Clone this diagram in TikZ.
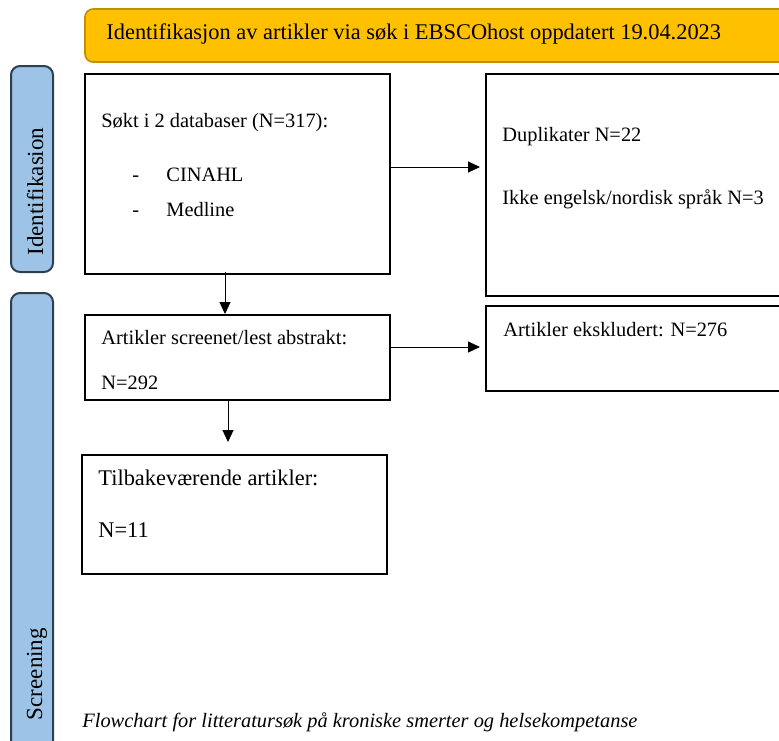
\documentclass[tikz,border=0pt]{standalone}
\usepackage{fontspec}
\setmainfont{Liberation Serif}
\usepackage{tikz}
\usetikzlibrary{arrows.meta}
\definecolor{banngul}{HTML}{FFC000}
\definecolor{bannkant}{HTML}{BF9000}
\definecolor{fasebla}{HTML}{9DC3E6}
\definecolor{fasekant}{HTML}{2E3F52}
\tikzset{
	boks/.style={draw, line width=1pt, inner sep=0pt, anchor=north west, minimum width=152.5pt},
	tekst/.style={inner sep=0pt, anchor=base west, font=\fontsize{10.2}{12}\selectfont},
	stor/.style={inner sep=0pt, anchor=base west, font=\fontsize{11.2}{13}\selectfont},
	fase/.style={inner sep=0pt, anchor=base, rotate=90, font=\fontsize{11.5}{13}\selectfont},
	pil/.style={-{Triangle[length=6pt,width=5.5pt]}, line width=0.5pt}
}
\begin{document}
\begin{tikzpicture}[x=0.5pt, y=-0.5pt]
		%%%%% START %%%%%
		\useasboundingbox (0, 0) rectangle (779, 740);
		\clip (0, 0) rectangle (779, 740);
		
		\draw[fill=banngul, draw=bannkant, line width=0.8pt, rounded corners=4pt] (85, 9) rectangle (820, 62);
		\node[stor] (tittel) at (106, 39) {Identifikasjon av artikler via søk i EBSCOhost oppdatert 19.04.2023};
		
		\draw[fill=fasebla, draw=fasekant, line width=1pt, rounded corners=4.5pt] (11, 66) rectangle (53, 272);
		\node[fase] (identfase) at (43, 191.5) {Identifikasion};
		\draw[fill=fasebla, draw=fasekant, line width=1pt, rounded corners=4.5pt] (11, 293) rectangle (53, 800);
		\node[fase] (screenfase) at (42, 674) {Screening};
		
		\node[boks, minimum height=100pt] (soek) at (84, 73) {};
		\node[tekst] (soektekst) at (101, 127) {Søkt i 2 databaser (N=317):};
		\node[tekst] (strek1) at (132, 181) {-};
		\node[tekst] (cinahl) at (166, 181) {CINAHL};
		\node[tekst] (strek2) at (132, 216) {-};
		\node[tekst] (medline) at (166, 216) {Medline};
		
		\node[boks, minimum width=160pt, minimum height=111pt] (dupl) at (485, 73) {};
		\node[tekst] (dupltekst) at (502, 141) {Duplikater N=22};
		\node[tekst] (spraak) at (502, 204) {Ikke engelsk/nordisk språk N=3};
		
		\node[boks, minimum height=42.5pt] (screen) at (84, 314) {};
		\node[tekst] (screentekst) at (101, 344) {Artikler screenet/lest abstrakt:};
		\node[tekst] (screenN) at (101, 389) {N=292};
		
		\node[boks, minimum width=160pt, minimum height=42.5pt] (ekskl) at (485, 305) {};
		\node[tekst] (eksktekst) at (503, 336) {Artikler ekskludert: N=276};
		
		\node[boks, minimum height=59.5pt] (rest) at (81, 454) {};
		\node[stor] (resttekst) at (98, 485) {Tilbakeværende artikler:};
		\node[stor] (restN) at (98, 537) {N=11};
		
		\draw[pil] ([xshift=-6.25pt, yshift=1.5pt]soek.south) -- ([xshift=-6.25pt]screen.north);
		\draw[pil] ([xshift=-4.75pt, yshift=1pt]screen.south) -- ([xshift=-3.25pt, yshift=6pt]rest.north);
		\draw[pil, shorten >=2.5pt] ([yshift=3.5pt]soek.east) -- ([yshift=3.5pt]soek.east -| dupl.west);
		\draw[pil, shorten >=2.5pt] ([yshift=5.25pt]screen.east) -- ([yshift=5.25pt]screen.east -| ekskl.west);
		
		\node[tekst, font=\fontsize{10.2}{12}\selectfont\itshape] (bildetekst) at (82, 727) {Flowchart for litteratursøk på kroniske smerter og helsekompetanse};
		%%%%% END %%%%%
	\end{tikzpicture}
\end{document}
